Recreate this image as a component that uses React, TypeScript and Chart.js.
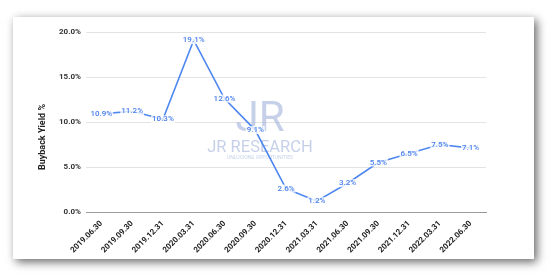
import React, { useEffect, useRef } from "react";
import { Chart, registerables } from "chart.js";

Chart.register(...registerables);

const categories = [
  "2019.06.30", "2019.09.30", "2019.12.31", "2020.03.31", "2020.06.30",
  "2020.09.30", "2020.12.31", "2021.03.31", "2021.06.30", "2021.09.30",
  "2021.12.31", "2022.03.31", "2022.06.30",
];
const buybackYield = [10.9, 11.2, 10.3, 19.1, 12.6, 9.1, 2.6, 1.2, 3.2, 5.5, 6.5, 7.5, 7.1];
const yTicks = [0, 5, 10, 15, 20];

const LINE = "#4f87f1";
const FONT = "Roboto, 'Liberation Sans', Arial, sans-serif";

const decorPlugin = {
  id: "decor",
  beforeDatasetsDraw(chart: any) {
    const ctx = chart.ctx;
    ctx.save();
    ctx.fillStyle = "rgba(160,176,218,0.6)";
    ctx.textAlign = "center";
    ctx.textBaseline = "middle";
    ctx.font = `400 42px ${FONT}`;
    ctx.fillText("JR", 260, 120);
    ctx.font = `400 16.5px ${FONT}`;
    ctx.fillText("JR RESEARCH", 260, 148);
    ctx.font = `400 5px ${FONT}`;
    ctx.fillText("UNLOCKING OPPORTUNITIES", 260, 158);
    ctx.restore();
  },
  afterDatasetsDraw(chart: any) {
    const ctx = chart.ctx;
    const meta = chart.getDatasetMeta(0);
    ctx.save();
    ctx.font = `500 8px ${FONT}`;
    ctx.textAlign = "center";
    ctx.textBaseline = "middle";
    meta.data.forEach((pt: any, i: number) => {
      const txt = buybackYield[i].toFixed(1) + "%";
      const w = ctx.measureText(txt).width;
      ctx.fillStyle = "rgba(255,255,255,0.8)";
      ctx.fillRect(pt.x - w / 2 - 1, pt.y - 4, w + 2, 8);
      ctx.fillStyle = "#4a80ee";
      ctx.fillText(txt, pt.x, pt.y);
    });
    // y axis title
    ctx.translate(43, 137);
    ctx.rotate(-Math.PI / 2);
    ctx.font = `700 9px ${FONT}`;
    ctx.fillStyle = "#222";
    ctx.fillText("Buyback Yield %", 0, 0);
    ctx.restore();
  },
};

export default function App() {
  const ref = useRef<HTMLCanvasElement>(null);
  useEffect(() => {
    document.body.style.margin = "0";
    const chart = new Chart(ref.current!, {
      type: "line",
      data: {
        labels: categories,
        datasets: [
          {
            data: buybackYield,
            borderColor: LINE,
            borderWidth: 1.6,
            pointRadius: 0,
            tension: 0,
            fill: false,
          },
        ],
      },
      options: {
        animation: false,
        responsive: false,
        layout: { padding: { top: 32, right: 65, left: 0, bottom: 0 } },
        plugins: { legend: { display: false }, tooltip: { enabled: false } },
        scales: {
          x: {
            offset: true,
            grid: { display: false },
            border: { color: "#9a9a9a", width: 1 },
            ticks: {
              maxRotation: 45,
              minRotation: 45,
              autoSkip: false,
              color: "#222",
              padding: -1,
              font: { family: FONT, size: 8, weight: "bold" },
            },
            afterFit: (s: any) => { s.height = 64; },
          },
          y: {
            min: 0,
            max: 20,
            afterBuildTicks: (s: any) => { s.ticks = yTicks.map((v) => ({ value: v })); },
            grid: { color: "#e3e3e3", drawTicks: false },
            border: { display: false },
            ticks: {
              color: "#333",
              padding: 5,
              font: { family: FONT, size: 8, weight: "bold" },
              callback: (v: any) => Number(v).toFixed(1) + "%",
            },
            afterFit: (s: any) => { s.width = 86; },
          },
        },
      },
      plugins: [decorPlugin],
    });
    return () => chart.destroy();
  }, []);
  return (
    <div style={{ position: "relative", width: 551, height: 276, background: "#fff", overflow: "hidden" }}>
      <div
        style={{
          position: "absolute",
          left: 13,
          top: 17,
          width: 521,
          height: 242,
          background: "#fff",
          boxShadow: "3px 3px 9px rgba(0,0,0,0.6)",
        }}
      />
      <canvas ref={ref} width={551} height={276} style={{ position: "absolute", left: 0, top: 0 }} />
    </div>
  );
}
